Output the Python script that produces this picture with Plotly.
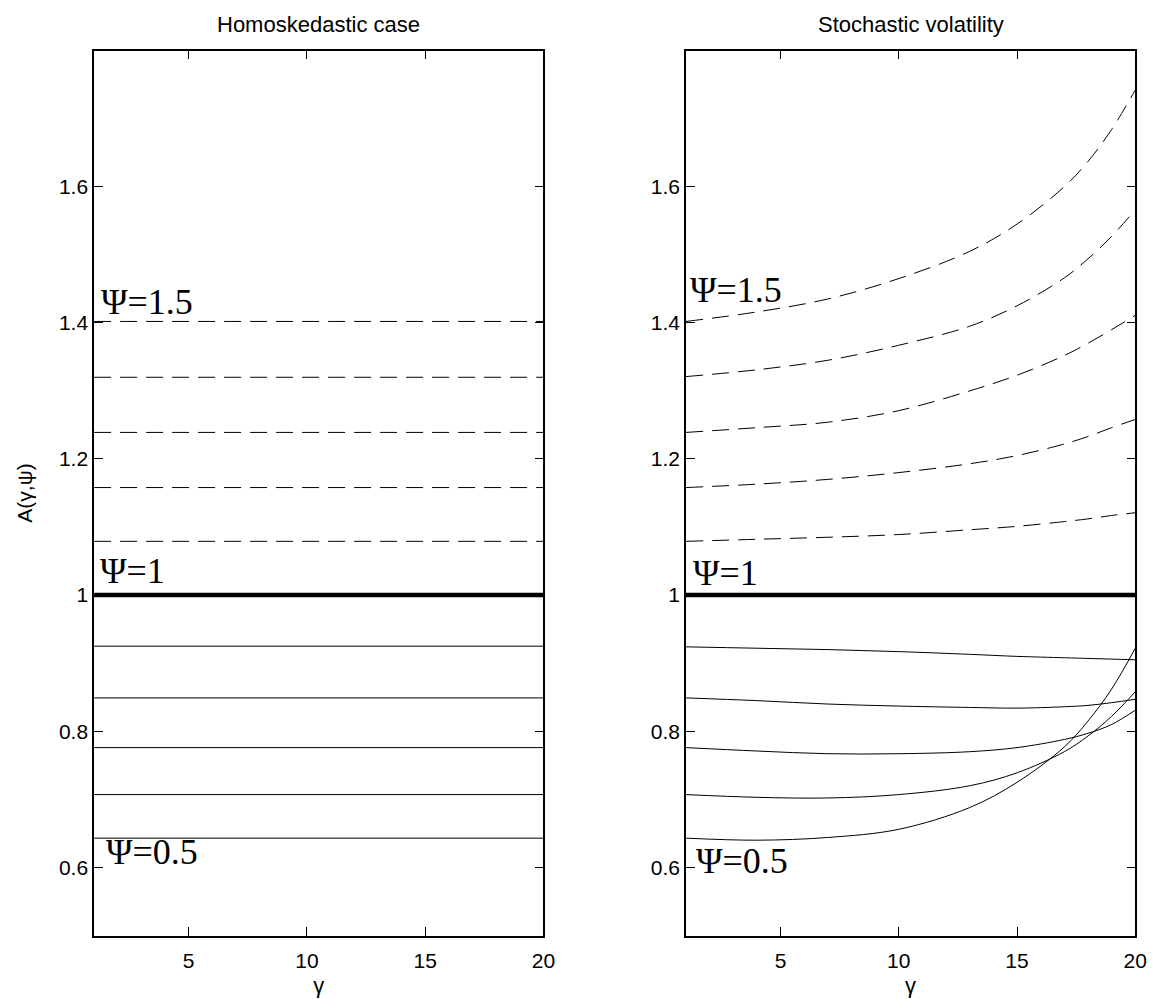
import plotly.graph_objects as go

# ---------------- data ----------------
psi_values = [0.5, 0.6, 0.7, 0.8, 0.9, 1.0, 1.1, 1.2, 1.3, 1.4, 1.5]

# Homoskedastic case: A(gamma, psi) is flat in gamma
homo_gamma = [1, 20]
homo_levels = [0.643, 0.707, 0.776, 0.849, 0.925, 1.0, 1.079, 1.158, 1.239, 1.320, 1.402]

# Stochastic volatility case: values read at these gamma points
sv_gamma = [1, 4, 7, 10, 13, 15, 17, 18, 19, 20]
sv_psi_050 = [0.643, 0.640, 0.644, 0.656, 0.688, 0.725, 0.777, 0.815, 0.862, 0.922]
sv_psi_060 = [0.707, 0.703, 0.702, 0.707, 0.720, 0.739, 0.770, 0.793, 0.822, 0.858]
sv_psi_070 = [0.776, 0.771, 0.767, 0.767, 0.770, 0.776, 0.788, 0.797, 0.810, 0.831]
sv_psi_080 = [0.849, 0.845, 0.840, 0.837, 0.835, 0.834, 0.836, 0.838, 0.842, 0.847]
sv_psi_090 = [0.924, 0.922, 0.920, 0.917, 0.913, 0.910, 0.908, 0.907, 0.906, 0.905]
sv_psi_100 = [1.0, 1.0, 1.0, 1.0, 1.0, 1.0, 1.0, 1.0, 1.0, 1.0]
sv_psi_110 = [1.079, 1.082, 1.085, 1.089, 1.096, 1.101, 1.108, 1.112, 1.117, 1.121]
sv_psi_120 = [1.158, 1.163, 1.170, 1.180, 1.193, 1.205, 1.222, 1.233, 1.246, 1.258]
sv_psi_130 = [1.239, 1.246, 1.254, 1.271, 1.300, 1.323, 1.352, 1.370, 1.390, 1.411]
sv_psi_140 = [1.321, 1.331, 1.345, 1.367, 1.395, 1.425, 1.466, 1.494, 1.527, 1.566]
sv_psi_150 = [1.402, 1.416, 1.435, 1.465, 1.505, 1.545, 1.600, 1.637, 1.684, 1.742]
sv_series = [sv_psi_050, sv_psi_060, sv_psi_070, sv_psi_080, sv_psi_090, sv_psi_100,
             sv_psi_110, sv_psi_120, sv_psi_130, sv_psi_140, sv_psi_150]

x_ticks = [5, 10, 15, 20]
y_ticks = [0.6, 0.8, 1.0, 1.2, 1.4, 1.6]
y_tick_text = ["0.6", "0.8", "1", "1.2", "1.4", "1.6"]

titles = ["Homoskedastic case", "Stochastic volatility"]
label_texts = ["\u03a8=1.5", "\u03a8=1", "\u03a8=0.5"]

# ---------------- styling ----------------
W, H = 1166, 999
SANS = "Liberation Sans, Arial, sans-serif"
SERIF = "Liberation Serif, Times New Roman, serif"
DASH = "17px,9px"


def line_style(psi):
    if psi > 1.0:
        return dict(color="black", width=1, dash=DASH)
    if psi == 1.0:
        return dict(color="black", width=4.5)
    return dict(color="black", width=1)


fig = go.Figure()

# left panel
for psi, lvl in zip(psi_values, homo_levels):
    fig.add_trace(go.Scatter(x=homo_gamma, y=[lvl, lvl], mode="lines",
                             line=line_style(psi), xaxis="x", yaxis="y",
                             showlegend=False, hoverinfo="skip"))
# right panel
for psi, ys in zip(psi_values, sv_series):
    st = line_style(psi)
    st["shape"] = "spline"
    st["smoothing"] = 1.0
    fig.add_trace(go.Scatter(x=sv_gamma, y=ys, mode="lines", line=st,
                             xaxis="x2", yaxis="y2", showlegend=False,
                             hoverinfo="skip"))

left_dom = [87 / W, 541 / W]
right_dom = [685 / W, 1139 / W]
y_dom = [1 - 927.5 / H, 1 - 42.5 / H]

xaxis_common = dict(range=[1, 20], tickvals=x_ticks, ticks="inside", ticklen=9,
                    tickwidth=1, tickcolor="black", showline=True, linecolor="black",
                    linewidth=1.5, mirror="allticks", showgrid=False, zeroline=False,
                    tickfont=dict(family=SANS, size=21, color="black"),
                    ticklabelstandoff=6,
                    title=dict(text="\u03b3", font=dict(family=SANS, size=22, color="black"),
                               standoff=6))
yaxis_common = dict(range=[0.5, 1.8], tickvals=y_ticks, ticktext=y_tick_text,
                    ticks="inside", ticklen=9, tickwidth=1, tickcolor="black",
                    showline=True, linecolor="black", linewidth=1.5, mirror="allticks",
                    showgrid=False, zeroline=False, domain=y_dom,
                    tickfont=dict(family=SANS, size=21, color="black"),
                    ticklabelstandoff=0)

fig.update_layout(
    width=W, height=H,
    margin=dict(l=0, r=0, t=0, b=0),
    paper_bgcolor="white", plot_bgcolor="white",
    xaxis=dict(domain=left_dom, anchor="y", **xaxis_common),
    yaxis=dict(anchor="x",
               title=dict(text="A(\u03b3,\u03c8)", font=dict(family=SANS, size=21, color="black"),
                          standoff=21),
               **yaxis_common),
    xaxis2=dict(domain=right_dom, anchor="y2", **xaxis_common),
    yaxis2=dict(anchor="x2", **yaxis_common),
)

annotations = []
# panel titles
for dom, t in zip([left_dom, right_dom], titles):
    annotations.append(dict(text=t, x=(dom[0] + dom[1]) / 2, y=1 - 17 / H,
                            xref="paper", yref="paper", xanchor="center", yanchor="middle",
                            showarrow=False, font=dict(family=SANS, size=22, color="black")))

# psi labels (positions in data units)
left_lab_pos = [(1.21, 1.431), (1.17, 1.035), (1.42, 0.622)]
right_lab_pos = [(1.08, 1.448), (1.20, 1.032), (1.33, 0.609)]
for (xr, yr), positions in [(("x", "y"), left_lab_pos), (("x2", "y2"), right_lab_pos)]:
    for txt, (px, py) in zip(label_texts, positions):
        annotations.append(dict(text=txt, x=px, y=py, xref=xr, yref=yr,
                                xanchor="left", yanchor="middle", showarrow=False,
                                font=dict(family=SERIF, size=36, color="black")))

fig.update_layout(annotations=annotations)

fig.write_html("out.html")
